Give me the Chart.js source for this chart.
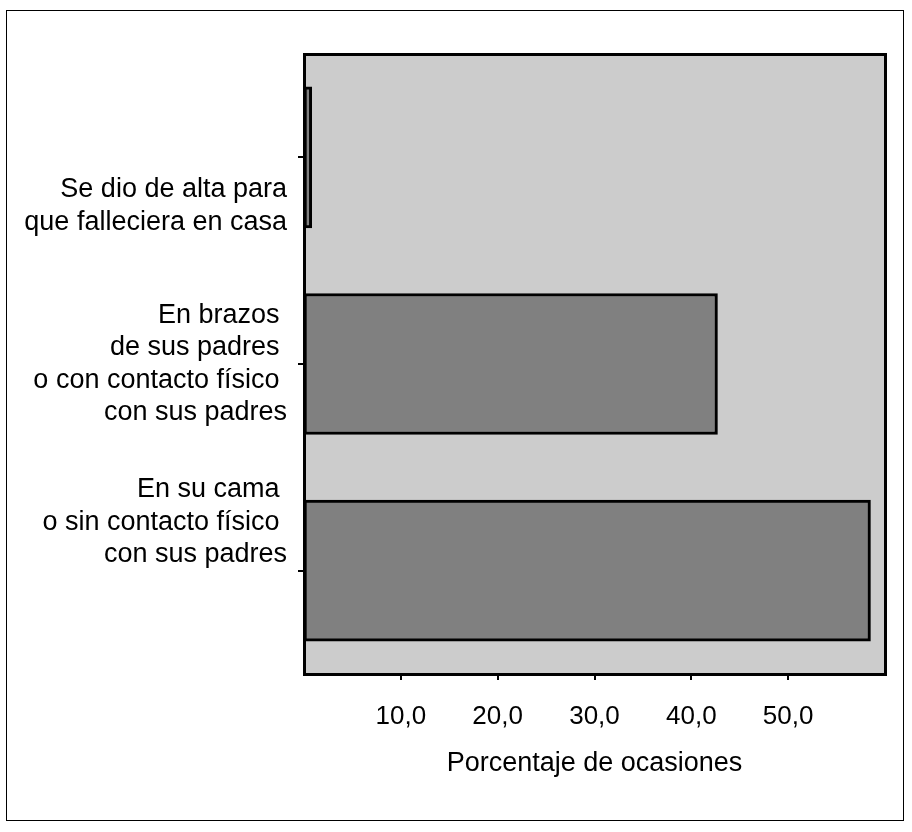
<!DOCTYPE html>
<html>
<head>
<meta charset="utf-8">
<script src="https://cdn.jsdelivr.net/npm/chart.js@4/dist/chart.umd.min.js"></script>
<style>
  html, body { margin: 0; padding: 0; background: #ffffff; }
  canvas { display: block; }
</style>
</head>
<body>
<canvas id="c" width="912" height="832"></canvas>
<script>
// ---- data ----
const categories = [
  ["Se dio de alta para", "que falleciera en casa"],
  ["En brazos ", "de sus padres ", "o con contacto físico ", "con sus padres"],
  ["En su cama ", "o sin contacto físico ", "con sus padres"]
];
const percentages = [0.8, 42.7, 58.5];
const xTickValues = [10, 20, 30, 40, 50];
const xMin = 0;
const xMax = 60;
const xTitle = "Porcentaje de ocasiones";

// ---- layout helpers (not data) ----
const blankLinesBefore = [3, 0, 0];
const blankLinesAfter = [0, 0, 3];

const framePlugin = {
  id: 'frame',
  beforeDraw(chart) {
    const ctx = chart.ctx;
    const a = chart.chartArea;
    ctx.save();
    ctx.fillStyle = '#ffffff';
    ctx.fillRect(0, 0, chart.width, chart.height);
    ctx.strokeStyle = '#000000';
    ctx.lineWidth = 1;
    ctx.strokeRect(6.5, 10.5, 897, 810);
    ctx.fillStyle = '#cccccc';
    ctx.fillRect(a.left, a.top, a.right - a.left, a.bottom - a.top);
    ctx.restore();
  },
  afterDatasetsDraw(chart) {
    const ctx = chart.ctx;
    const a = chart.chartArea;
    ctx.save();
    ctx.strokeStyle = '#000000';
    ctx.lineWidth = 3;
    ctx.strokeRect(a.left + 0.5, a.top + 0.5, a.right - a.left, a.bottom - a.top);
    ctx.restore();
  }
};

const FONT = "'Liberation Sans', Arial, Helvetica, sans-serif";

new Chart(document.getElementById('c'), {
  type: 'bar',
  data: {
    labels: categories,
    datasets: [{
      data: percentages,
      backgroundColor: '#808080',
      borderColor: '#000000',
      borderWidth: 3,
      borderSkipped: false,
      barThickness: 141
    }]
  },
  options: {
    indexAxis: 'y',
    responsive: false,
    animation: false,
    devicePixelRatio: 1,
    layout: { padding: { left: 0, right: 27, top: 54, bottom: 0 } },
    plugins: {
      legend: { display: false },
      tooltip: { enabled: false }
    },
    scales: {
      x: {
        type: 'linear',
        min: xMin,
        max: xMax,
        afterBuildTicks(scale) {
          scale.ticks = xTickValues.map(v => ({ value: v }));
        },
        afterFit(scale) {
          scale.height = 158;
          scale.paddingLeft = 0; scale.paddingRight = 0;
        },
        border: { display: false },
        grid: {
          drawOnChartArea: false,
          drawTicks: true,
          tickLength: 6,
          color: '#000000',
          lineWidth: 2
        },
        ticks: {
          color: '#000000',
          padding: 21,
          maxRotation: 0,
          autoSkip: false,
          font: { family: FONT, size: 26, lineHeight: 1.2 },
          callback: (v) => Number(v).toFixed(1).replace('.', ',')
        },
        title: {
          display: true,
          text: xTitle,
          color: '#000000',
          font: { family: FONT, size: 27, lineHeight: 1.2 },
          padding: { top: 0, bottom: 52 }
        }
      },
      y: {
        type: 'category',
        afterFit(scale) {
          scale.width = 304;
          scale.paddingTop = 0; scale.paddingBottom = 0;
        },
        border: { display: false },
        grid: {
          offset: false,
          drawOnChartArea: false,
          drawTicks: true,
          tickLength: 6,
          color: '#000000',
          lineWidth: 2
        },
        ticks: {
          color: '#000000',
          padding: 11,
          autoSkip: false,
          font: { family: FONT, size: 27, lineHeight: 1.2 },
          callback: function (value, index) {
            const lines = categories[index].slice();
            const before = Array(blankLinesBefore[index]).fill('');
            const after = Array(blankLinesAfter[index]).fill('');
            return before.concat(lines, after);
          }
        }
      }
    }
  },
  plugins: [framePlugin]
});
</script>
</body>
</html>
